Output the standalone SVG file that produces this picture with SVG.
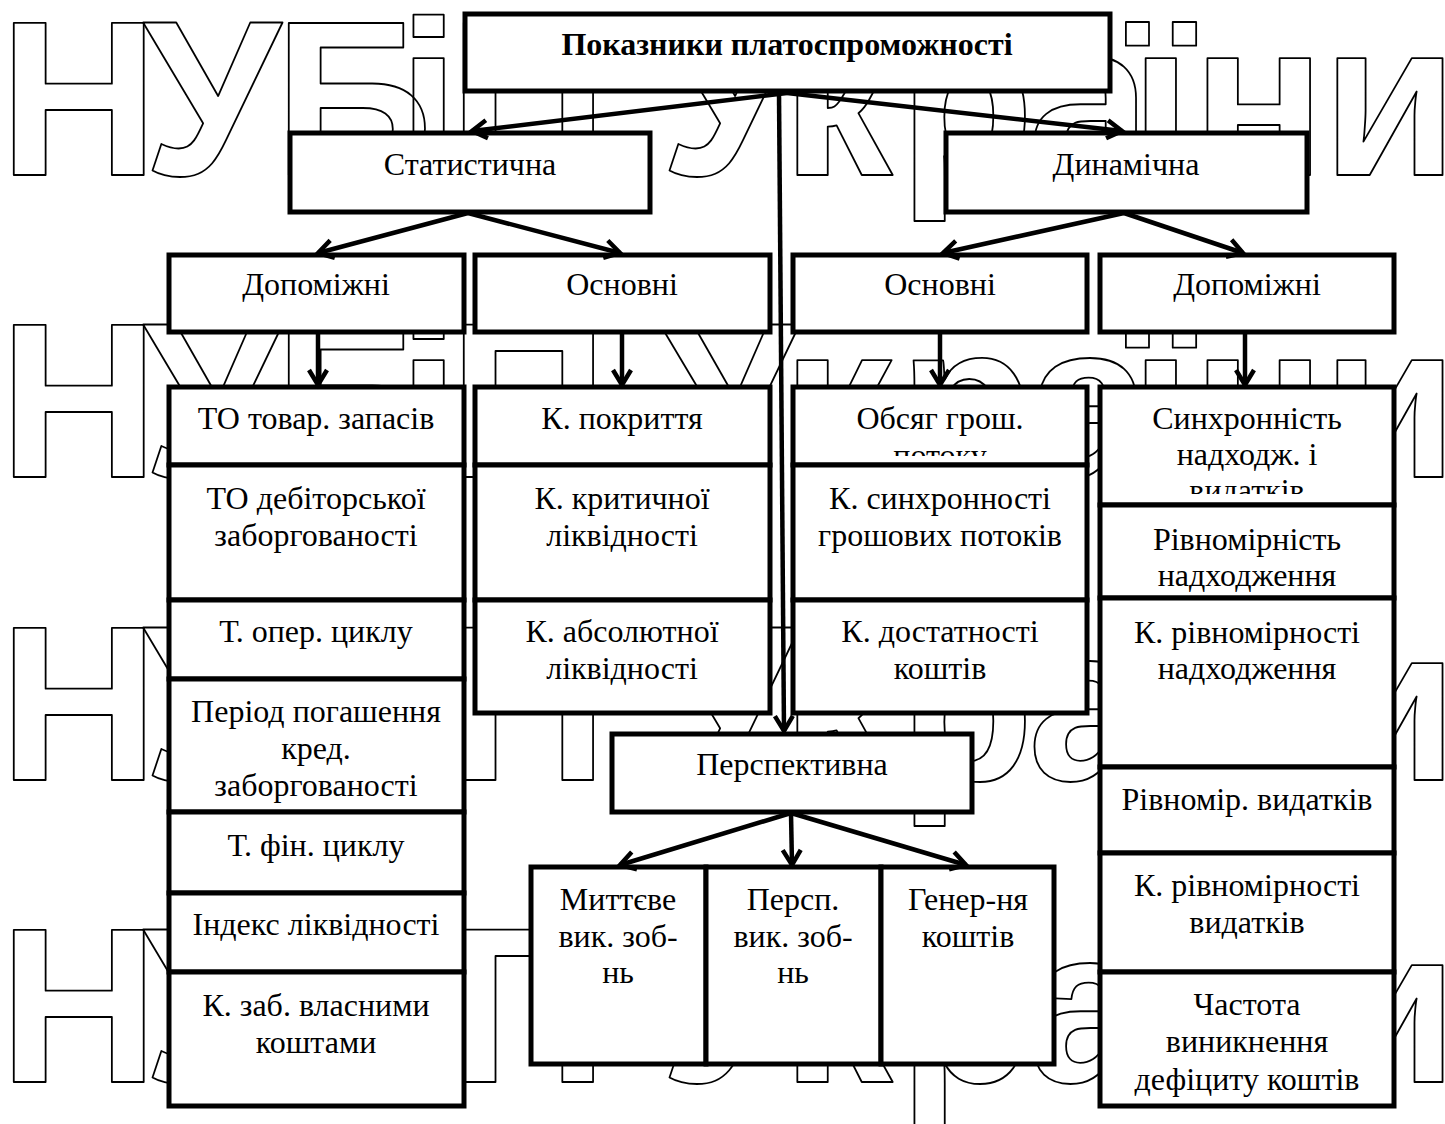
<svg xmlns="http://www.w3.org/2000/svg" width="1445" height="1124" viewBox="0 0 1445 1124">
<style>
.wm{font-family:"Liberation Sans",Arial,sans-serif;font-weight:bold;font-size:221px;fill:none;stroke:#000;stroke-width:1.8;stroke-linejoin:round}
.box{fill:#fff;stroke:#000;stroke-width:5}
.t{font-family:"Liberation Serif","Times New Roman",serif;font-size:32px;text-anchor:middle;fill:#000}
.tb{font-weight:bold;font-size:32px}
.c{fill:none;stroke:#000;stroke-width:4.5;marker-end:url(#arr)}
</style>
<defs>
<marker id="arr" markerUnits="userSpaceOnUse" markerWidth="24" markerHeight="24" refX="18" refY="10" orient="auto" overflow="visible">
<path d="M3,1 L18,10 L3,19" fill="none" stroke="#000" stroke-width="4.5" stroke-linejoin="miter"/>
</marker>
<clipPath id="clipObs"><rect x="793" y="387" width="294" height="69"/></clipPath>
<clipPath id="clipSyn"><rect x="1100" y="387" width="294" height="107"/></clipPath>
<text id="wmt" class="wm" x="-1 143 274 398 449 600 660 782 899 1028 1130 1192 1322" y="0">НУБіП України</text>
</defs>
<rect width="1445" height="1124" fill="#fff"/>
<g id="watermark">
<use href="#wmt" y="175"/>
<use href="#wmt" y="477"/>
<use href="#wmt" y="780"/>
<use href="#wmt" y="1082"/>
</g>
<g id="nodes">
<g id="root"><rect class="box" x="465" y="14" width="645" height="77"/><text class="t tb" x="787" y="55">Показники платоспроможності</text></g>
<g id="stat"><rect class="box" x="290" y="133" width="360" height="79"/><text class="t" x="470" y="175">Статистична</text></g>
<g id="dyn"><rect class="box" x="946" y="133" width="361" height="79"/><text class="t" x="1126" y="175">Динамічна</text></g>
<g id="stat-dop"><rect class="box" x="169" y="255" width="295" height="77"/><text class="t" x="316" y="295">Допоміжні</text></g>
<g id="stat-osn"><rect class="box" x="475" y="255" width="295" height="77"/><text class="t" x="622" y="295">Основні</text></g>
<g id="dyn-osn"><rect class="box" x="793" y="255" width="294" height="77"/><text class="t" x="940" y="295">Основні</text></g>
<g id="dyn-dop"><rect class="box" x="1100" y="255" width="294" height="77"/><text class="t" x="1247" y="295">Допоміжні</text></g>

<g id="l1"><rect class="box" x="169" y="387" width="295" height="78"/><text class="t" x="316" y="429">ТО товар. запасів</text></g>
<g id="l2"><rect class="box" x="169" y="465" width="295" height="135"/><text class="t" x="316" y="509">ТО дебіторської</text><text class="t" x="316" y="546">заборгованості</text></g>
<g id="l3"><rect class="box" x="169" y="600" width="295" height="79"/><text class="t" x="316" y="642">Т. опер. циклу</text></g>
<g id="l4"><rect class="box" x="169" y="679" width="295" height="133"/><text class="t" x="316" y="722">Період погашення</text><text class="t" x="316" y="759">кред.</text><text class="t" x="316" y="796">заборгованості</text></g>
<g id="l5"><rect class="box" x="169" y="812" width="295" height="81"/><text class="t" x="316" y="856">Т. фін. циклу</text></g>
<g id="l6"><rect class="box" x="169" y="893" width="295" height="79"/><text class="t" x="316" y="935">Індекс ліквідності</text></g>
<g id="l7"><rect class="box" x="169" y="972" width="295" height="134"/><text class="t" x="316" y="1016">К. заб. власними</text><text class="t" x="316" y="1053">коштами</text></g>

<g id="s1"><rect class="box" x="475" y="387" width="295" height="78"/><text class="t" x="622" y="429">К. покриття</text></g>
<g id="s2"><rect class="box" x="475" y="465" width="295" height="135"/><text class="t" x="622" y="509">К. критичної</text><text class="t" x="622" y="546">ліквідності</text></g>
<g id="s3"><rect class="box" x="475" y="600" width="295" height="113"/><text class="t" x="622" y="642">К. абсолютної</text><text class="t" x="622" y="679">ліквідності</text></g>

<g id="d1"><rect class="box" x="793" y="387" width="294" height="78"/><g clip-path="url(#clipObs)"><text class="t" x="940" y="429">Обсяг грош.</text><text class="t" x="940" y="466">потоку</text></g></g>
<g id="d2"><rect class="box" x="793" y="465" width="294" height="135"/><text class="t" x="940" y="509">К. синхронності</text><text class="t" x="940" y="546">грошових потоків</text></g>
<g id="d3"><rect class="box" x="793" y="600" width="294" height="113"/><text class="t" x="940" y="642">К. достатності</text><text class="t" x="940" y="679">коштів</text></g>

<g id="r1"><rect class="box" x="1100" y="387" width="294" height="118"/><g clip-path="url(#clipSyn)"><text class="t" x="1247" y="429">Синхронність</text><text class="t" x="1247" y="465">надходж. і</text><text class="t" x="1247" y="501">видатків</text></g></g>
<g id="r2"><rect class="box" x="1100" y="505" width="294" height="93"/><text class="t" x="1247" y="550">Рівномірність</text><text class="t" x="1247" y="586">надходження</text></g>
<g id="r3"><rect class="box" x="1100" y="598" width="294" height="169"/><text class="t" x="1247" y="643">К. рівномірності</text><text class="t" x="1247" y="679">надходження</text></g>
<g id="r4"><rect class="box" x="1100" y="767" width="294" height="86"/><text class="t" x="1247" y="810">Рівномір. видатків</text></g>
<g id="r5"><rect class="box" x="1100" y="853" width="294" height="119"/><text class="t" x="1247" y="896">К. рівномірності</text><text class="t" x="1247" y="933">видатків</text></g>
<g id="r6"><rect class="box" x="1100" y="972" width="294" height="134"/><text class="t" x="1247" y="1015">Частота</text><text class="t" x="1247" y="1052">виникнення</text><text class="t" x="1247" y="1090">дефіциту коштів</text></g>

<g id="persp"><rect class="box" x="612" y="734" width="360" height="78"/><text class="t" x="792" y="775">Перспективна</text></g>
<g id="p1"><rect class="box" x="531" y="867" width="175" height="197"/><text class="t" x="618" y="910">Миттєве</text><text class="t" x="618" y="947">вик. зоб-</text><text class="t" x="618" y="983">нь</text></g>
<g id="p2"><rect class="box" x="706" y="867" width="175" height="197"/><text class="t" x="793" y="910">Персп.</text><text class="t" x="793" y="947">вик. зоб-</text><text class="t" x="793" y="983">нь</text></g>
<g id="p3"><rect class="box" x="881" y="867" width="173" height="197"/><text class="t" x="968" y="910">Генер-ня</text><text class="t" x="968" y="947">коштів</text></g>
</g>
<g id="connectors">
<path class="c" d="M787,93 L472,131"/>
<path class="c" d="M787,93 L1122,131"/>
<path class="c" d="M779,93 L784,731"/>
<path class="c" d="M468,213 L318,253"/>
<path class="c" d="M468,213 L620,253"/>
<path class="c" d="M1124,213 L943,253"/>
<path class="c" d="M1124,213 L1243,253"/>
<path class="c" d="M318,333 L318,385"/>
<path class="c" d="M622,333 L622,385"/>
<path class="c" d="M940,333 L940,385"/>
<path class="c" d="M1245,333 L1245,385"/>
<path class="c" d="M791,813 L620,865"/>
<path class="c" d="M791,813 L792,865"/>
<path class="c" d="M791,813 L966,865"/>
</g>
</svg>
